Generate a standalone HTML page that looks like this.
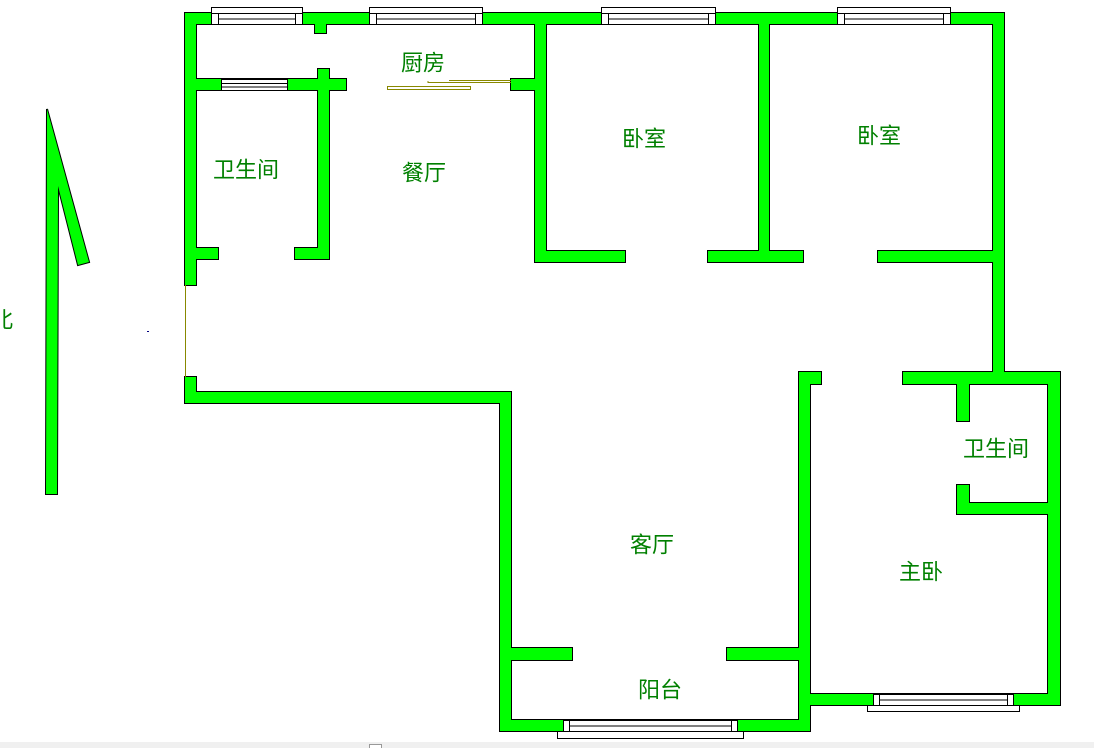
<!DOCTYPE html>
<html><head><meta charset="utf-8"><style>
html,body{margin:0;padding:0;background:#fff;}
svg{display:block}
text{font-family:"Liberation Sans","Noto Sans CJK SC",sans-serif;font-size:22px;fill:#008000;text-anchor:middle;dominant-baseline:central}
</style></head><body>
<svg width="1094" height="748" viewBox="0 0 1094 748">
<defs>
<g id="walls">
<rect x="185" y="13" width="819" height="11"/>
<rect x="185" y="13" width="11" height="272"/>
<rect x="185" y="377" width="11" height="26"/>
<rect x="185" y="392" width="326" height="11"/>
<rect x="500" y="392" width="11" height="339"/>
<rect x="500" y="720" width="310" height="11"/>
<rect x="799" y="372" width="11" height="359"/>
<rect x="799" y="372" width="22" height="12"/>
<rect x="799" y="694" width="261" height="11"/>
<rect x="1048" y="372" width="12" height="333"/>
<rect x="903" y="372" width="157" height="12"/>
<rect x="993" y="13" width="11" height="370"/>
<rect x="535" y="13" width="11" height="249"/>
<rect x="535" y="251" width="90" height="11"/>
<rect x="759" y="13" width="10" height="249"/>
<rect x="708" y="251" width="95" height="11"/>
<rect x="878" y="251" width="126" height="11"/>
<rect x="185" y="79" width="161" height="11"/>
<rect x="318" y="69" width="11" height="190"/>
<rect x="315" y="13" width="11" height="20"/>
<rect x="185" y="248" width="33" height="11"/>
<rect x="295" y="248" width="34" height="11"/>
<rect x="511" y="79" width="35" height="11"/>
<rect x="957" y="372" width="12" height="49"/>
<rect x="957" y="485" width="12" height="29"/>
<rect x="957" y="503" width="103" height="11"/>
<rect x="500" y="648" width="72" height="12"/>
<rect x="727" y="648" width="83" height="12"/>
<polygon points="47,109 89,262 78,265 58,186 57,494 46,494"/>
</g>
</defs>
<use href="#walls" fill="#000" stroke="#000" stroke-width="2"/>
<use href="#walls" fill="#00ff00" stroke="none"/>
<line x1="185.5" y1="285" x2="185.5" y2="377" stroke="#888800" stroke-width="1"/>
<g fill="#fff" stroke="#000" stroke-width="1">
<rect x="211.5" y="7.5" width="91" height="6"/>
<rect x="211.5" y="13.5" width="7" height="11"/><rect x="295.5" y="13.5" width="7" height="11"/>
<rect x="218.5" y="13.5" width="77" height="11"/>
<rect x="369.5" y="7.5" width="113" height="6"/>
<rect x="369.5" y="13.5" width="7" height="11"/><rect x="475.5" y="13.5" width="7" height="11"/>
<rect x="376.5" y="13.5" width="99" height="11"/>
<rect x="601.5" y="7.5" width="114" height="6"/>
<rect x="601.5" y="13.5" width="7" height="11"/><rect x="708.5" y="13.5" width="7" height="11"/>
<rect x="608.5" y="13.5" width="100" height="11"/>
<rect x="837.5" y="7.5" width="113" height="6"/>
<rect x="837.5" y="13.5" width="7" height="11"/><rect x="943.5" y="13.5" width="7" height="11"/>
<rect x="844.5" y="13.5" width="99" height="11"/>
<rect x="221.5" y="79.5" width="66" height="11"/>
<rect x="557.5" y="731.5" width="186" height="7"/>
<rect x="563.5" y="720.5" width="6" height="11"/><rect x="731.5" y="720.5" width="6" height="11"/>
<rect x="569.5" y="720.5" width="162" height="11"/>
<rect x="867.5" y="705.5" width="152" height="6"/>
<rect x="873.5" y="694.5" width="6" height="11"/><rect x="1007.5" y="694.5" width="6" height="11"/>
<rect x="879.5" y="694.5" width="128" height="11"/>
</g>
<g stroke="#000" stroke-width="1">
<line x1="218" y1="19" x2="296" y2="19"/><line x1="376" y1="19" x2="476" y2="19"/>
<line x1="608" y1="19" x2="709" y2="19"/><line x1="844" y1="19" x2="944" y2="19"/>
<line x1="221" y1="83.5" x2="288" y2="83.5"/><line x1="221" y1="87" x2="288" y2="87"/>
<line x1="569" y1="726" x2="732" y2="726"/><line x1="879" y1="700" x2="1008" y2="700"/>
</g>
<rect x="387.5" y="86.5" width="83" height="3" fill="none" stroke="#888800"/>
<polyline points="428,81 428,82.5 511,82.5" fill="none" stroke="#888800"/>
<line x1="449" y1="80.5" x2="511" y2="80.5" stroke="#888800"/>
<rect x="147" y="331" width="2" height="1" fill="#000080"/>
<text x="423" y="63">厨房</text>
<text x="246" y="170">卫生间</text>
<text x="424" y="173">餐厅</text>
<text x="644" y="139">卧室</text>
<text x="879" y="136">卧室</text>
<text x="996" y="449">卫生间</text>
<text x="652" y="545">客厅</text>
<text x="921" y="572">主卧</text>
<text x="660" y="690">阳台</text>
<text x="2" y="320">北</text>
<rect x="0" y="742" width="1094" height="6" fill="#f0f0f0"/>
<rect x="369.5" y="744.5" width="12" height="4" fill="#fff" stroke="#999"/>
</svg>
</body></html>
